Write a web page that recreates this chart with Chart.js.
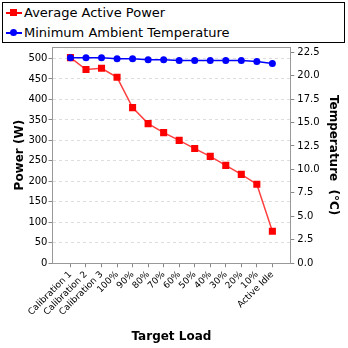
<!DOCTYPE html>
<html><head><meta charset="utf-8">
<script src="https://cdn.jsdelivr.net/npm/chart.js@4/dist/chart.umd.min.js"></script>
<style>
html,body{margin:0;padding:0;background:#fff;}
#wrap{position:relative;width:348px;height:348px;}
#legend{position:absolute;left:2px;top:2px;width:343px;height:41px;border:1px solid #000;background:#fff;font-family:"DejaVu Sans";font-size:13px;color:#000;box-sizing:border-box;}
.row{position:absolute;left:0;height:20px;line-height:20px;}
.ln{position:absolute;left:3px;top:9px;width:16px;height:1.5px;}
.mk{position:absolute;}
.tx{position:absolute;left:21px;top:0;white-space:nowrap;}
canvas{position:absolute;left:0;top:0;}
</style></head>
<body><div id="wrap"><canvas id="c" width="348" height="348"></canvas>
<div id="legend">
 <div class="row" style="top:0px"><div class="ln" style="background:#ff0000"></div><div class="mk" style="left:7px;top:6px;width:7px;height:7px;background:#ff0000"></div><div class="tx">Average Active Power</div></div>
 <div class="row" style="top:20px"><div class="ln" style="background:#0000ff"></div><div class="mk" style="left:7px;top:6px;width:7px;height:7px;border-radius:50%;background:#0000ff"></div><div class="tx">Minimum Ambient Temperature</div></div>
</div></div>
<script>
const categories = ["Calibration 1","Calibration 2","Calibration 3","100%","90%","80%","70%","60%","50%","40%","30%","20%","10%","Active Idle"];
const powerValues = [502, 473, 476, 454, 380, 341, 319, 300, 280, 261, 239, 217, 193, 78];
const tempValues = [21.9, 21.9, 21.9, 21.8, 21.8, 21.7, 21.7, 21.6, 21.6, 21.6, 21.6, 21.6, 21.5, 21.3];
const seriesNames = ["Average Active Power", "Minimum Ambient Temperature"];

const font = {family: "DejaVu Sans", size: 10};
const frame = {
  id: 'frame',
  afterDraw(chart){
    const a = chart.chartArea, ctx = chart.ctx;
    ctx.save(); ctx.strokeStyle = '#999'; ctx.lineWidth = 1;
    ctx.strokeRect(Math.round(a.left)+0.5, Math.round(a.top)+0.5, Math.round(a.right-a.left), Math.round(a.bottom-a.top));
    ctx.restore();
  }
};
new Chart(document.getElementById('c'), {
  type: 'line',
  data: {
    datasets: [
      {label: seriesNames[1], data: tempValues.map((v,i)=>({x:i,y:v})), yAxisID: 'y2', order: 0,
       borderColor: '#0000ff', backgroundColor: '#0000ff', borderWidth: 1.5, pointStyle: 'circle', pointRadius: 3.5, pointBorderWidth: 0},
      {label: seriesNames[0], data: powerValues.map((v,i)=>({x:i,y:v})), yAxisID: 'y', order: 1,
       borderColor: '#ff4040', backgroundColor: '#ff0000', borderWidth: 1.5, pointStyle: 'rect', pointRadius: 5, pointBorderWidth: 0}
    ]
  },
  options: {
    animation: false, responsive: false, devicePixelRatio: 1,
    layout: {padding: {top: 47, bottom: 0, left: 9, right: 8}},
    plugins: {legend: {display: false}, tooltip: {enabled: false}},
    scales: {
      x: {type: 'linear', min: -1.157, max: 14.157,
        afterBuildTicks: ax => { ax.ticks = categories.map((_, i) => ({value: i})); },
        afterFit: s => { s.paddingLeft = 0; s.paddingRight = 0; },
        ticks: {callback: v => categories[v], maxRotation: 45, minRotation: 45, color: '#000', font: {family: 'DejaVu Sans', size: 9}, padding: 2, autoSkip: false},
        grid: {drawOnChartArea: false, drawTicks: true, tickLength: 4, tickColor: '#888'},
        border: {color: '#999'},
        title: {display: true, text: 'Target Load', color: '#000', font: {family: 'DejaVu Sans', size: 12, weight: 'bold'}, padding: {top: 10, bottom: 4}}
      },
      y: {position: 'left', min: 0, max: 528,
        afterBuildTicks: ax => { ax.ticks = Array.from({length: 11}, (_, i) => ({value: i*50})); },
        ticks: {color: '#000', font, padding: 1},
        grid: {color: '#ddd', tickColor: '#888', tickLength: 4, drawTicks: true},
        border: {color: '#999', dash: [3,3]},
        title: {display: true, text: 'Power (W)', color: '#000', font: {family: 'DejaVu Sans', size: 12, weight: 'bold'}, padding: {top: 4, bottom: 0}}
      },
      y2: {position: 'right', min: 0, max: 23.05,
        afterBuildTicks: ax => { ax.ticks = Array.from({length: 10}, (_, i) => ({value: i*2.5})); },
        ticks: {color: '#000', font, padding: 3, callback: v => v.toFixed(1)},
        grid: {drawOnChartArea: false, tickColor: '#888', tickLength: 4},
        border: {color: '#999'},
        title: {display: true, text: 'Temperature  (°C)', color: '#000', font: {family: 'DejaVu Sans', size: 12, weight: 'bold'}, padding: {top: 0, bottom: 3}}
      }
    }
  },
  plugins: [frame]
});
</script></body></html>
